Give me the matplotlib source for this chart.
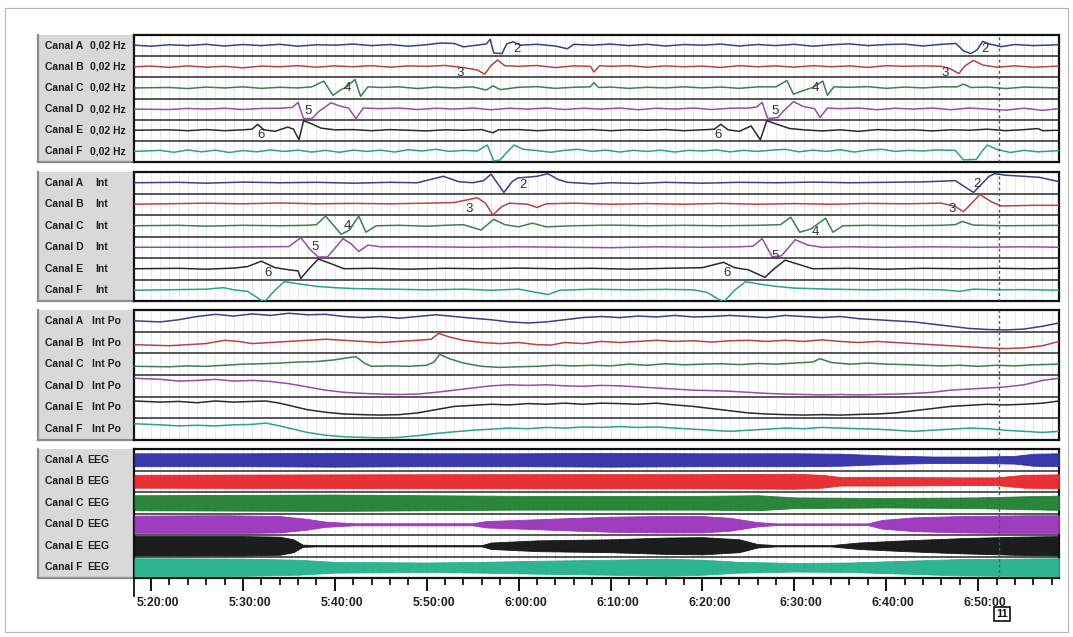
import matplotlib
matplotlib.use("Agg")
import matplotlib.pyplot as plt
from matplotlib.patches import Rectangle
from matplotlib.transforms import ScaledTranslation

plt.rcParams['font.family'] = ['Liberation Sans', 'DejaVu Sans']

# ---------------- data ----------------
channels = ['A', 'B', 'C', 'D', 'E', 'F']
panel_kinds = ['0,02 Hz', 'Int', 'Int Po', 'EEG']
# time in minutes after 5:20:00
tick_minutes = [0, 10, 20, 30, 40, 50, 60, 70, 80, 90]
tick_labels = ['5:20:00', '5:30:00', '5:40:00', '5:50:00', '6:00:00',
               '6:10:00', '6:20:00', '6:30:00', '6:40:00', '6:50:00']
minor_minutes = [m for m in range(2, 100, 2) if m % 10]
marker_minute = 92.3
marker_label = '11'

# Panel 1 : 0,02 Hz  (time, offset in row units)
hzA = [(-1.8,0.02),(0,-0.03),(2,0.04),(4,0),(6,0.06),(8,-0.02),(10,0.05),(12,0),(14,0.06),(16,-0.03),(18,0.04),(20,0.02),(22,0.07),(24,0),(26,0.05),(28,-0.03),(30,0.04),(31.5,0.12),(33,0.1),(34,-0.06),(35.5,0.02),(36.5,0.08),(36.9,0.3),(37.3,-0.35),(38.2,-0.38),(38.7,0.08),(39.4,0.18),(40.2,0.02),(42,0.06),(44,-0.02),(45.3,-0.15),(46,0.06),(48,0.02),(50,0.07),(52,0),(54,0.06),(56,-0.02),(58,0.05),(60,0.02),(62,0.07),(64,-0.02),(66,0.05),(68,0),(70,0.06),(72,-0.03),(74,0.04),(76,0.08),(78,0),(80,0.05),(82,0.07),(84,-0.02),(86,0.06),(87.6,0.1),(88.4,-0.25),(89.2,-0.38),(89.9,-0.2),(90.5,0.2),(91.2,0.08),(92.5,-0.05),(94,0.05),(96,0),(98.8,0.04)]
hzB = [(-1.8,0),(0,0.03),(2,-0.03),(4,0.04),(6,-0.02),(8,0.02),(10,-0.05),(12,0.03),(14,0),(16,0.05),(18,-0.02),(20,0.04),(22,0),(24,0.05),(26,-0.02),(28,0.04),(30,0.02),(32,0.06),(34,-0.04),(35.5,-0.15),(36.3,-0.35),(37,0.05),(37.7,0.32),(38.5,0.05),(40,0.02),(42,0.06),(44,-0.04),(46,0.04),(47.8,0.02),(48.2,-0.25),(48.8,0.05),(50,0.02),(52,0.05),(54,-0.02),(56,0.04),(58,0),(60,0.03),(62,-0.03),(64,0.05),(66,0),(68,0.04),(70,-0.02),(72,0.05),(74,0),(76,0.04),(78,-0.03),(80,0.05),(82,0.02),(84,0.04),(86,0.02),(87,-0.1),(87.9,-0.32),(88.6,0.05),(89.5,0.3),(90.5,0.08),(92,-0.02),(94,0.04),(96,-0.02),(98.8,0.03)]
hzC = [(-1.8,0),(2,0.02),(4,-0.03),(6,0.04),(8,0),(10,0.05),(12,-0.02),(14,0.03),(16,0),(17.5,0.05),(18.8,0.32),(19.8,-0.35),(20.6,-0.1),(21.2,0.02),(22.2,0.4),(22.8,-0.4),(23.6,0.05),(25,0.02),(27,0.05),(29,-0.03),(31,0.04),(33,0),(35,0.05),(36.5,-0.1),(37.2,0.1),(38,-0.08),(40,0.03),(42,0.06),(44,-0.02),(46,0.03),(47.8,0.05),(48.2,0.25),(48.7,0.02),(50,0.04),(52,-0.02),(54,0.03),(56,0),(58,0.05),(60,0),(62,0.04),(64,-0.02),(66,0.05),(68,0.05),(69.2,0.35),(69.9,-0.3),(70.8,-0.15),(72,0.02),(73.1,0.32),(73.6,-0.35),(74.3,0.05),(76,0.03),(78,0.06),(80,-0.02),(82,0.04),(84,0),(86,0.05),(87.7,0.05),(88.4,0.18),(89.2,0.02),(91,0.04),(93,-0.03),(95,0.04),(98.8,0)]
hzD = [(-1.8,0),(2,-0.02),(4,0.03),(6,0),(8,0.04),(10,-0.02),(12,0.03),(14,0.04),(15.4,0.08),(16,0.32),(16.6,-0.45),(17.5,-0.45),(18.3,-0.1),(19.6,0.3),(20.5,0.15),(21.5,0.05),(22.3,-0.45),(23.1,0.05),(25,0.02),(27,0.05),(29,-0.02),(31,0.04),(33,0),(35,0.05),(37,-0.03),(39,0.04),(41,0),(43,0.05),(45,-0.02),(47,0.04),(49,0),(51,0.05),(53,-0.03),(55,0.04),(57,0),(59,0.05),(61,-0.02),(63,0.04),(65,0.05),(65.9,0.1),(66.5,0.32),(67.1,-0.45),(68.2,-0.4),(68.8,-0.1),(69.9,0.35),(71,0.12),(72.2,0.02),(72.8,-0.4),(73.6,0.05),(75,0.02),(77,0.05),(79,-0.03),(81,0.04),(83,0),(85,0.05),(87,-0.03),(89,0.05),(91,0),(93,-0.05),(95,0.04),(97,-0.06),(98.8,0.02)]
hzE = [(-1.8,0),(2,0.02),(4,-0.02),(6,0.03),(8,-0.02),(10,0.02),(11,0.05),(11.6,0.28),(12.3,0.02),(13.5,-0.05),(14.9,0.15),(15.5,0.05),(16.1,-0.45),(16.6,0.45),(17.5,0.3),(18.5,0.1),(20,0.02),(22,0.03),(24,-0.02),(26,0.03),(28,0),(30,-0.03),(32,0.02),(34,0),(36,0.03),(37.2,-0.12),(37.8,0.02),(40,0.03),(42,-0.02),(44,0.02),(46,0),(48,0.03),(50,-0.02),(52,0.02),(54,0),(56,0.03),(58,-0.02),(60,0.02),(61.3,0.05),(62,0.28),(62.8,0.02),(64,-0.05),(65.3,0.2),(66.3,-0.45),(67,0.45),(68,0.3),(69.5,0.08),(71,0.02),(73,-0.03),(75,0.02),(77,-0.05),(79,0.03),(81,0),(83,0.02),(85,-0.03),(87,0.02),(89,0),(91,0.05),(93,-0.02),(95,0.03),(96.5,0.08),(97,-0.02),(98.8,0)]
hzF = [(-1.8,0),(1,0.05),(2.5,-0.04),(4,0.07),(5.5,-0.02),(7,0.06),(8.5,-0.05),(10,0.04),(11.5,-0.02),(13,0.07),(14.5,0),(16,0.06),(17.5,-0.03),(19,0.05),(20.5,-0.04),(22,0.06),(23.5,0),(25,0.06),(26.5,-0.03),(28,0.08),(29.5,0.02),(31,0.1),(32.5,0),(34,0.05),(35.5,0.02),(36.6,0.3),(37.3,-0.45),(38,-0.4),(38.6,-0.1),(39.5,0.3),(40.5,0.1),(42,0.04),(43.5,-0.04),(45,0.05),(46.5,0.1),(48,0),(49.5,0.06),(51,-0.03),(52.5,0.05),(54,0),(55.5,0.06),(57,-0.03),(58.5,0.05),(60,0.02),(61.5,0.07),(63,-0.02),(64.5,0.05),(66,0),(67.5,0.06),(69,0.1),(70.5,-0.02),(72,0.06),(73.5,0),(75,0.08),(76.5,-0.03),(78,0.06),(79.5,0.1),(81,0),(82.5,0.05),(84,0.02),(85.5,0.07),(87.5,0.05),(88.4,-0.4),(89.8,-0.38),(90.5,0.05),(91,0.3),(92,0.1),(93.5,-0.05),(95,0.05),(96.5,-0.02),(98.8,0.04)]

# Panel 2 : Int
inA = [(-1.8,0),(3,0.02),(6,-0.02),(10,0.03),(14,0),(18,0.02),(22,-0.02),(26,0.02),(29,0),(31.8,0.3),(33.5,0.05),(35,0),(36.2,0.1),(37,0.4),(38.4,-0.45),(39.3,0.05),(39.9,0.22),(42,0.3),(43.2,0.42),(44.3,0.15),(45.3,0.02),(48,-0.05),(50,0),(53,-0.03),(56,0.02),(60,-0.02),(64,0.02),(68,0),(72,0.03),(76,0),(80,0.02),(84,0.04),(86.5,0.08),(87.5,0.1),(89.5,-0.45),(91.2,0.3),(91.8,0.42),(93,0.35),(95,0.3),(96.7,0.25),(98.8,0.05)]
inB = [(-1.8,0),(3,0.03),(6,0.05),(10,0.02),(14,0.06),(18,0.02),(22,0.04),(26,0.02),(30,0.05),(33,0.08),(35.5,0.3),(36.4,0.05),(37.2,-0.5),(38.2,-0.1),(39,0.05),(41,0),(42,-0.15),(43,0.02),(46,0.05),(50,0),(54,0.03),(58,0),(62,0.04),(66,0),(70,0.03),(74,0),(78,0.04),(82,0.02),(86,0.05),(87.5,-0.1),(88.4,-0.35),(90.2,0.45),(91.5,0.1),(92.5,-0.08),(96,-0.05),(98.8,-0.05)]
inC = [(-1.8,0),(3,0.02),(6,-0.02),(10,0.02),(14,0),(17,0.02),(18,0.05),(19,0.45),(20.7,-0.4),(21.6,-0.2),(22.6,0.45),(23.4,-0.3),(24.5,0),(27,0.02),(30,-0.02),(32,0.02),(34,0.05),(35.9,-0.2),(37.3,0.3),(38.5,0.05),(40,-0.05),(41.5,0.12),(43,-0.05),(46,0),(50,0.03),(54,0),(58,0.02),(62,0),(66,0.02),(68.5,0.05),(69.6,0.4),(70.6,-0.3),(71.8,-0.15),(73.4,0.35),(74.2,-0.3),(75.3,0),(78,0.02),(82,0),(86,0.02),(87.5,0.05),(88.3,0.2),(89.5,0.03),(93,0),(98.8,0.02)]
inD = [(-1.8,0),(4,0),(8,0),(12,0.02),(15,0.03),(16.3,0.45),(17.3,-0.1),(18.2,-0.45),(19.2,-0.45),(20.9,0.4),(21.8,0.15),(22.6,-0.2),(23.6,0.1),(25,0.02),(30,0.02),(35,0),(40,0.02),(45,0),(50,-0.02),(55,0.02),(60,0),(64,0.02),(65.5,0.05),(66.5,0.4),(67.6,-0.45),(68.6,-0.4),(70.1,0.35),(71.5,0.1),(73,0),(76,0.02),(80,0),(85,0.02),(90,0),(95,0.02),(98.8,0)]
inE = [(-1.8,0),(3,0.02),(6,-0.02),(9,0.03),(10.5,0.1),(12,0.35),(13.5,0.05),(15,-0.05),(16,-0.1),(16.3,-0.45),(17.2,0),(18.2,0.45),(19.5,0.25),(21,0),(24,0.02),(28,-0.02),(32,0.02),(36,0),(40,0.03),(44,0),(48,0.02),(52,-0.02),(56,0.02),(60,0.05),(62.3,0.3),(63.5,0.05),(65,-0.05),(66.8,-0.4),(67.8,0),(69,0.4),(70.5,0.2),(72,0),(76,0.02),(80,-0.02),(84,0.02),(88,0),(92,0.02),(96,0),(98.8,0.02)]
inF = [(-1.8,0),(3,0.03),(6,0.05),(7.9,0.12),(9,0.02),(10.5,-0.05),(12.3,-0.55),(13.5,0),(14.5,0.4),(16,0.3),(18,0.18),(20,0.12),(22,0.08),(26,0.05),(30,0.02),(34,0.05),(37,0),(40,0.05),(43.2,-0.2),(44.5,0),(48,0.05),(52,0.02),(56,0.04),(59,0.02),(60.5,-0.1),(62.3,-0.55),(63.5,0),(64.7,0.4),(66,0.3),(68,0.18),(70,0.1),(74,0.05),(78,0.02),(82,0.04),(86,0.02),(88,-0.05),(89.5,0.05),(92,0.02),(95,0.03),(98.8,0)]

# Panel 3 : Int Po
poA = [(-1.8,0),(1,-0.05),(3,0.05),(5,0.2),(7,0.3),(9,0.22),(11,0.32),(13,0.25),(15,0.35),(17,0.28),(19,0.3),(21,0.2),(23,0.15),(25,0.2),(27,0.12),(29,0.2),(31,0.28),(33,0.2),(35,0.12),(37,0.05),(39,-0.05),(41,-0.1),(43,-0.05),(45,0.05),(47,0.15),(49,0.2),(51,0.15),(53,0.22),(55,0.18),(57,0.25),(59,0.18),(61,0.2),(63,0.25),(65,0.2),(67,0.15),(69,0.25),(71,0.2),(73,0.15),(75,0.2),(77,0.1),(79,0.05),(81,0),(83,-0.05),(85,-0.15),(87,-0.25),(89,-0.35),(91,-0.4),(93,-0.42),(95,-0.38),(97,-0.25),(98.8,-0.1)]
poB = [(-1.8,-0.1),(2,-0.15),(4,-0.1),(6,-0.05),(8,0.1),(9.5,0.05),(11,-0.05),(13,0),(15,0.05),(17,0.1),(19,0.15),(21,0.1),(23,0.05),(25,0),(27,0.05),(29,0.1),(30.5,0.15),(31.3,0.42),(32.5,0.25),(34,0.1),(36,0),(38,-0.05),(40,0),(42,-0.1),(43.5,-0.12),(45,0),(47,-0.05),(49,0.05),(51,0),(53,0.05),(55,0.1),(57,0.05),(59,0.08),(61,0.02),(63,0.08),(65,0.1),(67,0.05),(69,0.1),(71,0.05),(73,0.12),(75,0.05),(77,0),(79,0.05),(81,0),(83,-0.05),(85,-0.1),(87,-0.15),(89,-0.2),(91,-0.25),(93,-0.28),(95,-0.25),(97,-0.15),(98.8,0.05)]
poC = [(-1.8,-0.1),(2,-0.12),(4,-0.08),(6,-0.1),(8,-0.05),(10,0),(12,0.02),(14,0.05),(16,0.1),(18,0.12),(20,0.2),(21.5,0.3),(22.3,0.35),(23.2,0.05),(24,-0.1),(26,-0.08),(28,-0.1),(30,-0.05),(30.8,0.1),(31.4,0.45),(32.5,0.25),(34,0.05),(36,-0.1),(38,-0.15),(40,-0.12),(42,-0.1),(44,-0.05),(46,-0.08),(48,-0.05),(50,-0.08),(52,0),(54,-0.05),(56,0.02),(58,-0.03),(60,0),(62,0.02),(64,-0.02),(66,0.03),(68,0),(70,0.05),(72,0.1),(72.8,0.25),(74,0.08),(76,0),(78,0.05),(80,0),(82,-0.02),(84,-0.05),(86,-0.08),(88,-0.05),(90,-0.1),(92,-0.05),(94,-0.08),(96,-0.03),(98.8,0)]
poD = [(-1.8,0.35),(1,0.3),(3,0.22),(5,0.25),(7,0.3),(9,0.22),(11,0.25),(13,0.2),(15,0.1),(17,-0.05),(19,-0.2),(21,-0.3),(23,-0.35),(25,-0.38),(27,-0.4),(29,-0.38),(31,-0.3),(33,-0.2),(35,-0.1),(37,0),(39,0.05),(41,0.02),(43,0.05),(45,0),(47,-0.02),(49,0.02),(51,0),(53,-0.05),(55,-0.1),(57,-0.15),(59,-0.2),(61,-0.22),(63,-0.25),(65,-0.3),(67,-0.35),(69,-0.38),(71,-0.4),(73,-0.42),(75,-0.4),(77,-0.42),(79,-0.4),(81,-0.38),(83,-0.35),(85,-0.3),(87,-0.2),(89,-0.15),(91,-0.1),(93,-0.05),(95,0.05),(97,0.25),(98.8,0.35)]
poE = [(-1.8,0.3),(1,0.25),(3,0.28),(5,0.22),(7,0.3),(9,0.25),(11,0.28),(12.5,0.3),(14,0.2),(15.5,0.05),(17,-0.1),(19,-0.22),(21,-0.3),(23,-0.33),(25,-0.35),(27,-0.33),(29,-0.25),(31,-0.1),(33,0.05),(35,0.1),(37,0.15),(39,0.12),(41,0.18),(43,0.15),(45,0.2),(47,0.15),(49,0.2),(51,0.18),(53,0.15),(55,0.2),(57,0.12),(59,0.05),(61,-0.05),(63,-0.15),(65,-0.25),(67,-0.3),(69,-0.33),(71,-0.35),(73,-0.33),(75,-0.35),(77,-0.32),(79,-0.3),(81,-0.25),(83,-0.15),(85,-0.05),(87,0.05),(89,0.1),(91,0.15),(93,0.12),(95,0.15),(97,0.2),(98.8,0.3)]
poF = [(-1.8,0.25),(1,0.2),(3,0.15),(5,0.18),(7,0.15),(9,0.2),(11,0.22),(12.5,0.28),(14,0.15),(15.5,0),(17,-0.15),(19,-0.28),(21,-0.35),(23,-0.38),(25,-0.4),(27,-0.38),(29,-0.3),(31,-0.2),(33,-0.12),(35,-0.05),(37,0),(39,0.05),(41,0.02),(43,0.08),(45,0.05),(47,0.1),(49,0.08),(51,0.12),(53,0.08),(55,0.1),(57,0.05),(59,0),(61,-0.05),(63,-0.1),(65,-0.05),(67,0),(69,0.05),(71,0.02),(73,0.08),(75,0.05),(77,0.02),(79,0),(81,-0.05),(83,-0.1),(85,-0.05),(87,0),(89,0.05),(91,0.02),(93,-0.05),(95,-0.1),(97,-0.15),(98.8,-0.1)]

# Panel 4 : EEG amplitude envelopes (half amplitude, row units)
eegA = [(-1.8,0.3),(10,0.3),(20,0.32),(30,0.3),(40,0.3),(50,0.32),(60,0.3),(70,0.3),(75,0.28),(80,0.2),(85,0.15),(90,0.15),(94,0.18),(96,0.28),(98.8,0.3)]
eegB = [(-1.8,0.3),(20,0.32),(40,0.33),(60,0.33),(70,0.35),(73,0.3),(75,0.2),(80,0.2),(88,0.18),(92,0.18),(95,0.3),(98.8,0.32)]
eegC = [(-1.8,0.35),(20,0.38),(40,0.32),(60,0.32),(66,0.35),(70,0.25),(80,0.22),(90,0.25),(95,0.3),(98.8,0.33)]
eegD = [(-1.8,0.4),(8,0.42),(14,0.38),(17,0.25),(19,0.12),(22,0.05),(35,0.05),(36.5,0.15),(40,0.2),(45,0.28),(50,0.35),(55,0.38),(60,0.38),(63,0.3),(66,0.1),(68,0.04),(78,0.04),(79.5,0.2),(83,0.32),(88,0.38),(92,0.4),(96,0.42),(98.8,0.42)]
eegE = [(-1.8,0.45),(10,0.45),(14,0.42),(15.5,0.3),(16.5,0.05),(18,0.03),(36,0.03),(37,0.15),(42,0.25),(50,0.3),(56,0.38),(60,0.4),(64,0.3),(66,0.08),(68,0.03),(74,0.03),(77,0.15),(82,0.25),(88,0.35),(94,0.42),(98.8,0.45)]
eegF = [(-1.8,0.42),(10,0.4),(16,0.35),(20,0.25),(30,0.22),(36,0.25),(42,0.3),(50,0.35),(56,0.4),(60,0.35),(64,0.25),(70,0.2),(76,0.22),(82,0.3),(88,0.38),(94,0.4),(98.8,0.42)]

# event numbers: (minute, channel index, vertical offset, text)
hz_numbers = [(39.8,0,-0.14,'2'),(90.8,0,-0.14,'2'),(33.6,1,-0.28,'3'),(86.4,1,-0.28,'3'),
              (21.4,2,0.0,'4'),(72.3,2,0.0,'4'),(17.1,3,-0.08,'5'),(67.9,3,-0.08,'5'),
              (12.0,4,-0.22,'6'),(61.7,4,-0.22,'6')]
in_numbers = [(40.5,0,-0.1,'2'),(89.9,0,-0.05,'2'),(34.6,1,-0.2,'3'),(87.2,1,-0.2,'3'),
              (21.4,2,0.0,'4'),(72.3,2,-0.28,'4'),(17.9,3,0.0,'5'),(67.9,3,-0.4,'5'),
              (12.7,4,-0.2,'6'),(62.7,4,-0.2,'6')]

line_colors = ['#3d3f86', '#b8443e', '#3e7f4e', '#9b4ba8', '#2a2a2a', '#2aa38a']
eeg_colors = ['#2e2ea8', '#e8262a', '#1f7f2f', '#9933bb', '#111111', '#22b08a']

panel_traces = [[hzA, hzB, hzC, hzD, hzE, hzF],
                [inA, inB, inC, inD, inE, inF],
                [poA, poB, poC, poD, poE, poF]]
eeg_traces = [eegA, eegB, eegC, eegD, eegE, eegF]
panel_numbers = [hz_numbers, in_numbers, []]

# ---------------- layout ----------------
W, H = 1073, 637
fig = plt.figure(figsize=(W / 100, H / 100), dpi=100)
fig.patch.set_facecolor('white')
fig.add_artist(Rectangle((5 / W, 1 - 632 / H), 1063 / W, 624 / H, transform=fig.transFigure,
                         fill=False, ec='#b5b5b5', lw=0.8))

panels_y = [(35, 162), (172, 301), (310, 440), (449, 578)]
LBL_X0, LBL_X1 = 38, 133
PLT_X0, PLT_X1 = 134, 1059
XMIN, XMAX = -1.85, 98.8
kind_x = [90, 95, 92, 87]


def add_px(x0, y0, x1, y1):
    return fig.add_axes([x0 / W, 1 - y1 / H, (x1 - x0) / W, (y1 - y0) / H])


for p, (y0, y1) in enumerate(panels_y):
    la = add_px(LBL_X0, y0, LBL_X1, y1)
    la.set_facecolor('#d9d9d9')
    la.set_xlim(0, LBL_X1 - LBL_X0)
    la.set_ylim(0, 6)
    la.set_xticks([]); la.set_yticks([])
    la.spines['top'].set_visible(False)
    la.spines['right'].set_visible(False)
    for s in ('left', 'bottom'):
        la.spines[s].set_color('#8c8c8c')
        la.spines[s].set_linewidth(1.6)
    for i, ch in enumerate(channels):
        yc = 5.5 - i
        la.text(45 - LBL_X0, yc, f'Canal {ch}', fontsize=7.5, fontweight='bold',
                ha='left', va='center', color='#1e1e1e')
        la.text(kind_x[p] - LBL_X0, yc, panel_kinds[p], fontsize=7.5, fontweight='bold',
                ha='left', va='center', color='#1e1e1e')

    ax = add_px(PLT_X0, y0, PLT_X1, y1)
    ax.set_xlim(XMIN, XMAX)
    ax.set_ylim(0, 6)
    ax.set_facecolor('white')
    for m in range(-1, 99):
        ax.axvline(m, color='#e1e6ec', lw=0.6, zorder=0)
    for k in range(1, 6):
        ax.axhline(k, color='#4a4a4a', lw=1.3, zorder=2)
    for s in ax.spines.values():
        s.set_color('#111111')
        s.set_linewidth(1.6)
    ax.set_yticks([])

    if p < 3:
        for i, knots in enumerate(panel_traces[p]):
            yc = 5.5 - i
            ts = [k[0] for k in knots]
            vs = [yc + k[1] for k in knots]
            ax.plot(ts, vs, color=line_colors[i], lw=1.1, zorder=3)
        for (t, ci, dy, txt) in panel_numbers[p]:
            ax.text(t, 5.5 - ci + dy, txt, fontsize=9.5, color='#333333',
                    ha='center', va='center', zorder=4)
        ax.set_xticks([])
    else:
        for i, knots in enumerate(eeg_traces):
            yc = 5.5 - i
            ts = [k[0] for k in knots]
            amp = [k[1] for k in knots]
            ax.fill_between(ts, [yc - a for a in amp], [yc + a for a in amp],
                            color=eeg_colors[i], lw=0.6, alpha=0.95, zorder=3)
        ax.set_xticks(tick_minutes)
        ax.set_xticklabels(tick_labels, fontsize=8.8, fontweight='bold', color='#222222')
        ax.set_xticks(minor_minutes, minor=True)
        ax.tick_params(axis='x', which='major', length=9, width=1.3, direction='out', pad=5)
        ax.tick_params(axis='x', which='minor', length=5, width=1.2, direction='out')
        off = ScaledTranslation(7 / 100, 0, fig.dpi_scale_trans)
        for lbl in ax.get_xticklabels():
            lbl.set_transform(lbl.get_transform() + off)
        ax.plot([0, 0], [0, -0.14], transform=ax.transAxes, color='#111111', lw=1.3,
                clip_on=False)

    ax.axvline(marker_minute, color='#555555', ls=(0, (2, 2)), lw=1.0, zorder=5)

fig.text(1002 / W, 1 - 614 / H, marker_label, ha='center', va='center', fontsize=8,
         fontweight='bold', color='#111111',
         bbox=dict(boxstyle='square,pad=0.2', fc='white', ec='#111111', lw=1.2))

fig.savefig('out.png', dpi=100)
